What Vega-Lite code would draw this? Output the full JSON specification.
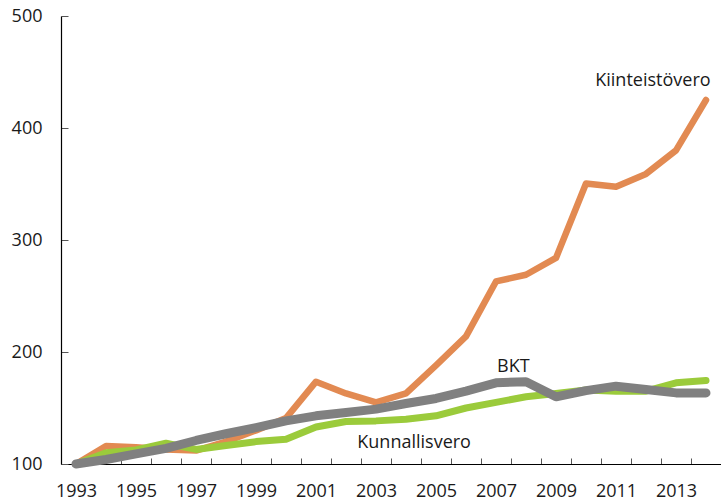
{
  "$schema": "https://vega.github.io/schema/vega-lite/v6.json",
  "width": 660,
  "height": 448,
  "autosize": "none",
  "padding": {"left": 61, "top": 16, "right": 0, "bottom": 36},
  "background": "white",
  "config": {"view": {"stroke": null}, "font": "Open Sans"},
  "datasets": {
    "series": [
      {"series": "Kiinteistövero", "year": 1993, "value": 100},
      {"series": "Kiinteistövero", "year": 1994, "value": 116},
      {"series": "Kiinteistövero", "year": 1995, "value": 115},
      {"series": "Kiinteistövero", "year": 1996, "value": 113},
      {"series": "Kiinteistövero", "year": 1997, "value": 112},
      {"series": "Kiinteistövero", "year": 1998, "value": 120},
      {"series": "Kiinteistövero", "year": 1999, "value": 130},
      {"series": "Kiinteistövero", "year": 2000, "value": 141},
      {"series": "Kiinteistövero", "year": 2001, "value": 173.5},
      {"series": "Kiinteistövero", "year": 2002, "value": 163},
      {"series": "Kiinteistövero", "year": 2003, "value": 155},
      {"series": "Kiinteistövero", "year": 2004, "value": 163},
      {"series": "Kiinteistövero", "year": 2005, "value": 188},
      {"series": "Kiinteistövero", "year": 2006, "value": 214},
      {"series": "Kiinteistövero", "year": 2007, "value": 263},
      {"series": "Kiinteistövero", "year": 2008, "value": 269},
      {"series": "Kiinteistövero", "year": 2009, "value": 284},
      {"series": "Kiinteistövero", "year": 2010, "value": 350.5},
      {"series": "Kiinteistövero", "year": 2011, "value": 347.5},
      {"series": "Kiinteistövero", "year": 2012, "value": 359},
      {"series": "Kiinteistövero", "year": 2013, "value": 380},
      {"series": "Kiinteistövero", "year": 2014, "value": 425},
      {"series": "Kunnallisvero", "year": 1993, "value": 100},
      {"series": "Kunnallisvero", "year": 1994, "value": 110},
      {"series": "Kunnallisvero", "year": 1995, "value": 112.5},
      {"series": "Kunnallisvero", "year": 1996, "value": 118.5},
      {"series": "Kunnallisvero", "year": 1997, "value": 113},
      {"series": "Kunnallisvero", "year": 1998, "value": 116.5},
      {"series": "Kunnallisvero", "year": 1999, "value": 120},
      {"series": "Kunnallisvero", "year": 2000, "value": 122},
      {"series": "Kunnallisvero", "year": 2001, "value": 133},
      {"series": "Kunnallisvero", "year": 2002, "value": 138},
      {"series": "Kunnallisvero", "year": 2003, "value": 138.5},
      {"series": "Kunnallisvero", "year": 2004, "value": 140},
      {"series": "Kunnallisvero", "year": 2005, "value": 143},
      {"series": "Kunnallisvero", "year": 2006, "value": 150},
      {"series": "Kunnallisvero", "year": 2007, "value": 155},
      {"series": "Kunnallisvero", "year": 2008, "value": 160},
      {"series": "Kunnallisvero", "year": 2009, "value": 163},
      {"series": "Kunnallisvero", "year": 2010, "value": 166},
      {"series": "Kunnallisvero", "year": 2011, "value": 165},
      {"series": "Kunnallisvero", "year": 2012, "value": 165},
      {"series": "Kunnallisvero", "year": 2013, "value": 172.5},
      {"series": "Kunnallisvero", "year": 2014, "value": 174.5},
      {"series": "BKT", "year": 1993, "value": 100},
      {"series": "BKT", "year": 1994, "value": 104},
      {"series": "BKT", "year": 1995, "value": 109},
      {"series": "BKT", "year": 1996, "value": 114},
      {"series": "BKT", "year": 1997, "value": 121},
      {"series": "BKT", "year": 1998, "value": 127},
      {"series": "BKT", "year": 1999, "value": 132.5},
      {"series": "BKT", "year": 2000, "value": 138.5},
      {"series": "BKT", "year": 2001, "value": 143},
      {"series": "BKT", "year": 2002, "value": 146},
      {"series": "BKT", "year": 2003, "value": 149},
      {"series": "BKT", "year": 2004, "value": 154},
      {"series": "BKT", "year": 2005, "value": 158.5},
      {"series": "BKT", "year": 2006, "value": 165},
      {"series": "BKT", "year": 2007, "value": 172.5},
      {"series": "BKT", "year": 2008, "value": 173.5},
      {"series": "BKT", "year": 2009, "value": 160},
      {"series": "BKT", "year": 2010, "value": 165.5},
      {"series": "BKT", "year": 2011, "value": 169.5},
      {"series": "BKT", "year": 2012, "value": 166.5},
      {"series": "BKT", "year": 2013, "value": 163.5},
      {"series": "BKT", "year": 2014, "value": 163.5}
    ],
    "labels": [
      {"label": "Kiinteistövero", "year": 2012.23, "value": 437.5},
      {"label": "BKT", "year": 2007.58, "value": 182},
      {"label": "Kunnallisvero", "year": 2004.27, "value": 114.3}
    ]
  },
  "encoding": {
    "x": {
      "field": "year",
      "type": "quantitative",
      "scale": {"domain": [1992.5, 2014.5], "nice": false, "zero": false},
      "axis": {
        "title": null,
        "grid": false,
        "values": [1993, 1993.5, 1994.5, 1995, 1995.5, 1996.5, 1997, 1997.5, 1998.5, 1999, 1999.5, 2000.5, 2001, 2001.5, 2002.5, 2003, 2003.5, 2004.5, 2005, 2005.5, 2006.5, 2007, 2007.5, 2008.5, 2009, 2009.5, 2010.5, 2011, 2011.5, 2012.5, 2013, 2013.5],
        "labelExpr": "datum.value % 2 == 1 ? format(datum.value, 'd') : ''",
        "labelOverlap": false,
        "labelFlush": false,
        "labelBound": false,
        "labelFontSize": 18,
        "labelColor": "#1a1a1a",
        "labelPadding": 24,
        "tickSize": -6,
        "tickColor": "#555555",
        "tickOpacity": {"condition": {"test": "datum.value % 1 != 0", "value": 1}, "value": 0},
        "domainColor": "#000000",
        "domainWidth": 1.2
      }
    },
    "y": {
      "field": "value",
      "type": "quantitative",
      "scale": {"domain": [100, 500], "nice": false, "zero": false},
      "axis": {
        "title": null,
        "grid": false,
        "values": [100, 200, 300, 400, 500],
        "labelFontSize": 18,
        "labelColor": "#1a1a1a",
        "labelPadding": 26,
        "tickSize": -7,
        "tickColor": "#555555",
        "domainColor": "#000000",
        "domainWidth": 1.2
      }
    }
  },
  "layer": [
    {
      "data": {"name": "series"},
      "transform": [{"filter": "datum.series === 'Kiinteistövero'"}],
      "mark": {"type": "line", "color": "#E28A52", "strokeWidth": 6.5, "strokeCap": "round", "strokeJoin": "round"}
    },
    {
      "data": {"name": "series"},
      "transform": [{"filter": "datum.series === 'Kunnallisvero'"}],
      "mark": {"type": "line", "color": "#9BCB3B", "strokeWidth": 7, "strokeCap": "round", "strokeJoin": "round"}
    },
    {
      "data": {"name": "series"},
      "transform": [{"filter": "datum.series === 'BKT'"}],
      "mark": {"type": "line", "color": "#808080", "strokeWidth": 9, "strokeCap": "round", "strokeJoin": "round"}
    },
    {
      "data": {"name": "labels"},
      "mark": {"type": "text", "fontSize": 18, "align": "center", "baseline": "alphabetic", "color": "#1a1a1a"},
      "encoding": {"text": {"field": "label", "type": "nominal"}}
    }
  ]
}
